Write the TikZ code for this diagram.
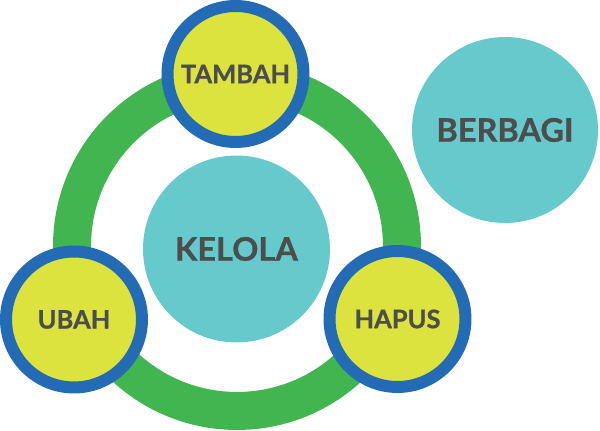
\documentclass[tikz,border=0pt]{standalone}
\usepackage{fontspec}
\setsansfont[BoldFeatures={FakeBold=0.8}]{Lato}
\usepackage{xcolor}
\usepackage{tikz}

\definecolor{cyclegreen}{RGB}{65,182,80}
\definecolor{ringblue}{RGB}{35,107,181}
\definecolor{actyellow}{RGB}{220,227,62}
\definecolor{topicteal}{RGB}{102,201,204}
\definecolor{labelgray}{RGB}{77,77,77}

\begin{document}
\begin{tikzpicture}[
  x=0.02cm, y=-0.02cm,
  % --- Circle styles ---
  basecircle/.style={
    circle, inner sep=0pt, align=center,
    text=labelgray
  },
  actionbox/.style={basecircle, minimum size=2.72cm,
    draw=ringblue, line width=0.24cm, fill=actyellow,
    font=\sffamily\bfseries\fontsize{14.5}{16}\selectfont},
  topicbox/.style={basecircle, minimum size=3.74cm,
    fill=topicteal,
    font=\sffamily\bfseries\fontsize{18.5}{20}\selectfont},
  % --- Cycle ring ---
  cycle/.style={draw=cyclegreen, line width=0.76cm},
]
\useasboundingbox (0,0) rectangle (600,431);

% ===================== RING =====================
\coordinate (hub) at (237,246);
\draw[cycle] (hub) circle (3.3cm);

% ===================== TOPICS =====================
\node[topicbox] (kelola) at (236.5,249) {KELOLA};
\node[topicbox, minimum size=3.72cm] (berbagi) at (505,130) {BERBAGI};

% ===================== ACTIONS =====================
\node[actionbox] (tambah) at (235.5,74) {TAMBAH};
\node[actionbox] (ubah) at (74,319.5) {UBAH};
\node[actionbox] (hapus) at (397.5,319) {HAPUS};

\end{tikzpicture}
\end{document}
